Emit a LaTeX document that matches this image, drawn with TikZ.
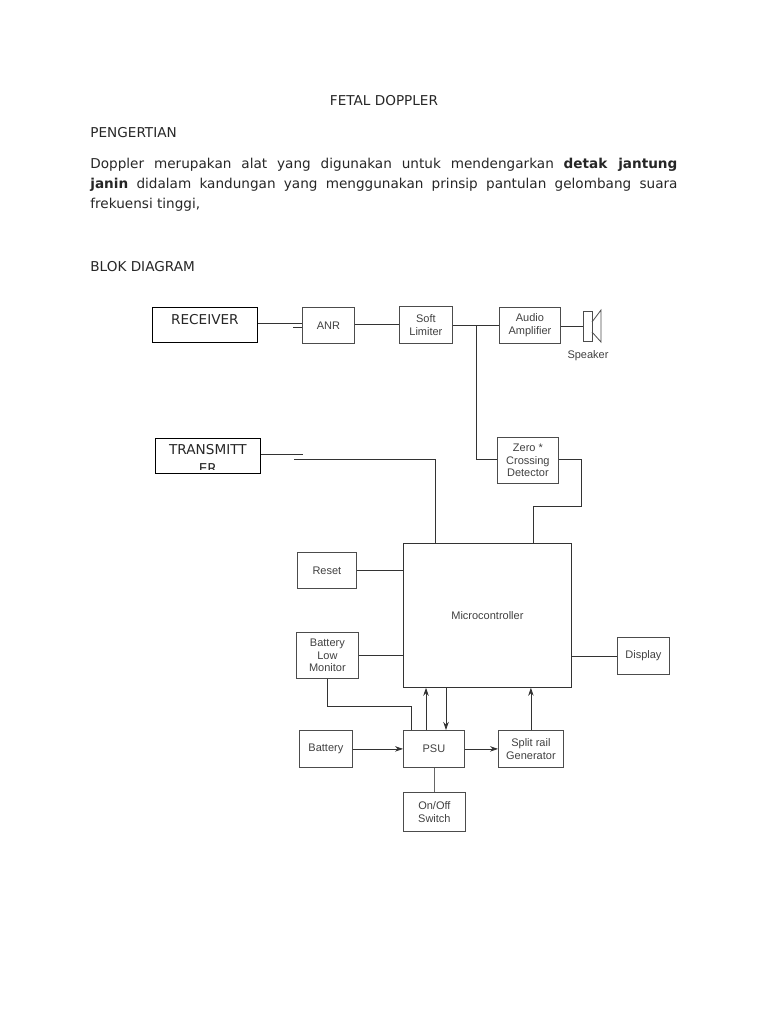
\documentclass[tikz,border=0pt]{standalone}
\usepackage{fontspec}
\setmainfont{DejaVu Sans}
\newfontfamily\blockfont{Liberation Sans}
\usetikzlibrary{arrows.meta}

\begin{document}
\begin{tikzpicture}[x=1pt, y=-1pt, line width=0.8pt, draw=black!80,
    every node/.style={text=black!85, font=\fontsize{13.6}{16}\selectfont, inner sep=0pt},
    headtext/.style={anchor=west},
    blockbox/.style={draw=black!70, anchor=north west, align=center, font=\blockfont\fontsize{11}{12.5}\selectfont, text=black!75},
    bigbox/.style={draw=black, anchor=north west, align=center},
    flow/.style={-{Stealth[length=8pt, width=5.5pt]}}]
  \useasboundingbox (0,0) rectangle (768,1024);
  \node (title) at (384,101) {FETAL DOPPLER};
  \node[headtext] (pengertian) at (90,133) {PENGERTIAN};
  \node[anchor=north west, text width=587pt, align=justify, font=\fontsize{13.6}{19.7}\selectfont] (para) at (90,158)
    {Doppler merupakan alat yang digunakan untuk mendengarkan \textbf{detak jantung}\linebreak \textbf{janin} didalam kandungan yang menggunakan prinsip pantulan gelombang suara\linebreak frekuensi tinggi,};
  \node[headtext] (blok) at (90,267) {BLOK DIAGRAM};
  \node[bigbox, minimum width=105pt, minimum height=35pt] (receiver) at (152,307) {\raisebox{11pt}{RECEIVER}};
  \node[bigbox, minimum width=105pt, minimum height=35pt, path picture={
      \node[anchor=center, align=center, yshift=-3.5pt, font=\fontsize{13.6}{19}\selectfont] at (path picture bounding box.center) {TRANSMITT\\ER};
      \fill[white] (path picture bounding box.south west) rectangle ++(105pt,3pt);
    }] (transmitter) at (155,438) {};
  \node[blockbox, minimum width=52pt, minimum height=36pt] (anr) at (302,307) {ANR};
  \node[blockbox, minimum width=53pt, minimum height=37pt] (limiter) at (399,306) {Soft\\Limiter};
  \node[blockbox, minimum width=61pt, minimum height=36pt] (audio) at (499,307) {Audio\\Amplifier};
  \node[draw=black!70, anchor=north west, minimum width=9pt, minimum height=30pt] (speaker) at (583,311) {};
  \coordinate (conetop) at (601,310);
  \coordinate (conebot) at (601,342);
  \draw[black!70] (592,322) -- (conetop) -- (conebot) -- (592,332);
  \node[blockbox, draw=none, anchor=center] (speakertext) at (588,356) {Speaker};
  \node[blockbox, minimum width=61pt, minimum height=46pt] (zero) at (497,437) {Zero *\\Crossing\\Detector};
  \node[bigbox, draw=black!80, minimum width=168pt, minimum height=144pt, font=\blockfont\fontsize{11}{12}\selectfont, text=black!75] (micro) at (403,543) {Microcontroller};
  \node[blockbox, minimum width=59pt, minimum height=36pt] (reset) at (297,552) {Reset};
  \node[blockbox, minimum width=62pt, minimum height=46pt] (monitor) at (296,632) {Battery\\Low\\Monitor};
  \node[blockbox, minimum width=52pt, minimum height=37pt] (display) at (617,637) {Display};
  \node[blockbox, minimum width=53pt, minimum height=37pt] (battery) at (299,730) {Battery};
  \node[blockbox, minimum width=61pt, minimum height=37pt] (psu) at (403,730) {PSU};
  \node[blockbox, minimum width=65pt, minimum height=37pt] (split) at (498,730) {Split rail\\Generator};
  \node[blockbox, minimum width=62pt, minimum height=39pt] (switch) at (403,792) {On/Off\\Switch};
  \coordinate (rxtop) at (0,323);
  \coordinate (rxlow) at (0,327);
  \coordinate (anrline) at (0,324);
  \coordinate (audioline) at (0,325.5);
  \coordinate (spkline) at (0,326);
  \coordinate (txtop) at (0,454);
  \coordinate (txlow) at (0,459);
  \coordinate (txend) at (303,454);
  \coordinate (txstart) at (294,459);
  \coordinate (txturn) at (435,459);
  \coordinate (branch) at (476,325.5);
  \coordinate (rxstub) at (293,327);
  \coordinate (zeroturn) at (581,459);
  \coordinate (zerodown) at (581,506);
  \coordinate (zeroback) at (533,506);
  \coordinate (monturn) at (327,706);
  \coordinate (psuturn) at (411,706);
  \coordinate (psuup) at (426,0);
  \coordinate (psudown) at (446,0);
  \draw (receiver.east |- rxtop) -- (anr.west |- rxtop);
  \draw (rxstub) -- (anr.west |- rxlow);
  \draw (anr.east |- anrline) -- (limiter.west |- anrline);
  \draw (limiter.east |- audioline) -- (audio.west |- audioline);
  \draw (audio.east |- spkline) -- (speaker.west |- spkline);
  \draw (branch) |- (zero.west |- txlow);
  \draw (transmitter.east |- txtop) -- (txend);
  \draw (txstart) -- (txturn) -- (txturn |- micro.north);
  \draw (zero.east |- txlow) -- (zeroturn) -- (zerodown) -- (zeroback) -- (zeroback |- micro.north);
  \draw (reset.east) -- (reset.east -| micro.west);
  \draw (monitor.east) -- (monitor.east -| micro.west);
  \draw (display.west) -- (display.west -| micro.east);
  \draw (monturn |- monitor.south) -- (monturn) -- (psuturn) -- (psuturn |- psu.north);
  \draw[flow] (psuup |- psu.north) -- (psuup |- micro.south);
  \draw[flow] (psudown |- micro.south) -- (psudown |- psu.north);
  \draw[flow] (split.north) -- (split.north |- micro.south);
  \draw[flow] (battery.east) -- (psu.west);
  \draw[flow] (psu.east) -- (split.west);
  \draw[black!60] (psu.south) -- (psu.south |- switch.north);
\end{tikzpicture}
\end{document}
